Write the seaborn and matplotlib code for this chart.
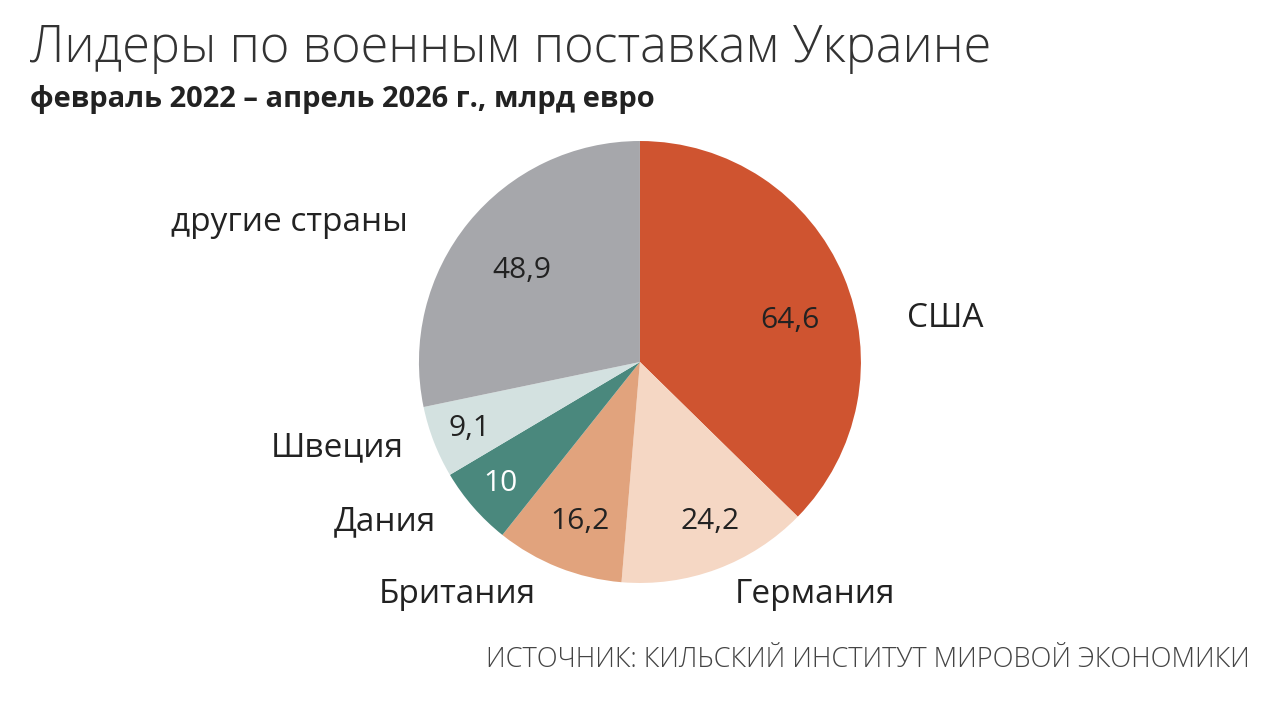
import matplotlib
matplotlib.use("Agg")
import matplotlib.pyplot as plt
import seaborn as sns

countries = ["США", "Германия", "Британия", "Дания", "Швеция", "другие страны"]
values = [64.6, 24.2, 16.2, 10.0, 9.1, 48.9]
value_texts = ["64,6", "24,2", "16,2", "10", "9,1", "48,9"]
colors = ["#CF5430", "#F5D7C4", "#E1A37D", "#4A887D", "#D3E1E0", "#A6A7AB"]
value_text_colors = ["#222222", "#222222", "#222222", "#FFFFFF", "#222222", "#222222"]

# layout (axes data units, pie radius = 1)
value_pos = [(0.679, 0.190), (0.317, -0.724), (-0.271, -0.724),
             (-0.633, -0.552), (-0.769, -0.299), (-0.534, 0.416)]
label_pos = [(1.380, 0.199), (0.792, -1.054), (-0.828, -1.054),
             (-1.154, -0.724), (-1.371, -0.389), (-1.584, 0.633)]

sns.set_theme(style="white")
plt.rcParams["font.family"] = ["Open Sans", "DejaVu Sans"]

fig = plt.figure(figsize=(12.8, 7.04), dpi=100)
fig.patch.set_facecolor("white")
ax = fig.add_axes([0.3273, 0.1719, 0.3453, 0.6278])
ax.pie(values, colors=colors, startangle=90, counterclock=False,
       wedgeprops=dict(linewidth=0), radius=1)
ax.set_xlim(-1, 1)
ax.set_ylim(-1, 1)
ax.set_aspect("equal")
ax.axis("off")

for (x, y), t, c in zip(value_pos, value_texts, value_text_colors):
    ax.text(x, y, t, ha="center", va="center", fontsize=21.5, color=c)
for (x, y), t in zip(label_pos, countries):
    ax.text(x, y, t, ha="center", va="center", fontsize=24, color="#222222",
            clip_on=False)

fig.text(30 / 1280, 1 - 48 / 704, "Лидеры по военным поставкам Украине",
         fontsize=36.4, fontweight="light", color="#333333", va="center", ha="left")
fig.text(30 / 1280, 1 - 100 / 704, "февраль 2022 – апрель 2026 г., млрд евро",
         fontsize=21, fontweight="bold", color="#222222", va="center", ha="left")
fig.text(1250 / 1280, 1 - 660 / 704, "ИСТОЧНИК: КИЛЬСКИЙ ИНСТИТУТ МИРОВОЙ ЭКОНОМИКИ",
         fontsize=19.5, fontweight="light", color="#444444", va="center", ha="right")

fig.savefig("out.png", dpi=100, facecolor="white")
